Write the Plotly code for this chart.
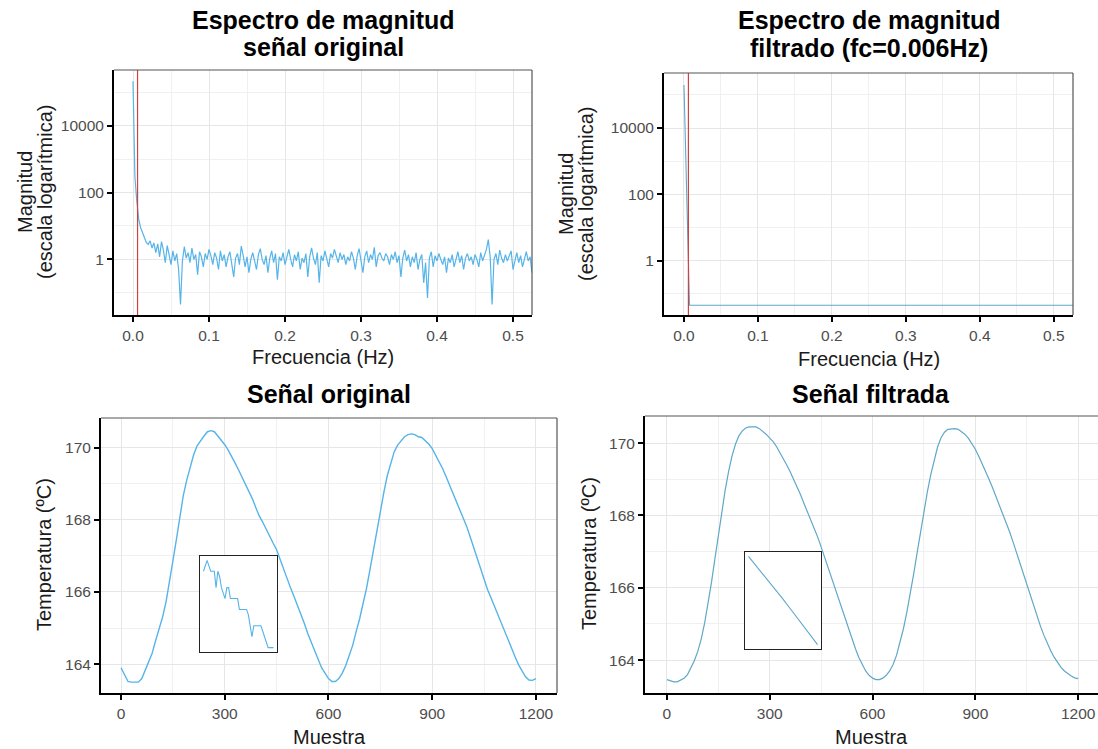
import numpy as np
import plotly.graph_objects as go

W, H = 1098, 749

# ---------------- data ----------------
FREQ_STEP = 0.0025          # Hz between spectrum points
FC = 0.006                  # cut-off frequency (Hz)

spec_orig = [
    210000, 300, 55, 16, 9, 6, 4.5, 3.2, 2.8, 3.6,
    2.2, 3.1, 1.6, 2.9, 1.2, 3.4, 1.9, 0.8, 2.6, 1.4,
    0.7, 1.8, 0.9, 1.5, 0.5, 0.045, 0.9, 2.4, 1.1, 1.6,
    0.8, 2.2, 1.0, 1.4, 0.35, 1.7, 1.2, 0.6, 1.5, 1.0,
    2.0, 1.3, 0.7, 1.6, 1.1, 0.5, 1.8, 0.9, 1.4, 0.6,
    1.2, 1.7, 0.8, 0.3, 1.1, 1.5, 0.7, 2.5, 1.3, 0.6,
    1.2, 0.4, 1.0, 1.6, 0.9, 0.5, 1.4, 2.1, 1.0, 0.7,
    1.3, 0.4, 1.1, 1.8, 0.8, 1.5, 0.25, 1.2, 0.9, 1.6,
    0.7, 1.3, 2.0, 1.0, 0.6, 1.4, 0.9, 1.7, 0.5, 1.1,
    0.8, 1.5, 0.3, 1.2, 2.2, 1.1, 0.7, 1.6, 0.2, 1.3,
    0.9, 1.8, 1.0, 0.6, 1.5, 1.1, 2.0, 1.2, 0.8, 1.6,
    1.0, 1.4, 0.7, 1.2, 0.9, 1.7, 1.1, 0.5, 1.3, 2.1,
    0.9, 0.4, 1.2, 1.8, 0.8, 1.4, 1.0, 2.3, 0.6, 1.3,
    1.6, 1.1, 0.9, 1.5, 1.2, 0.7, 1.4, 1.0, 1.7, 0.8,
    1.3, 0.3, 1.1, 1.9, 0.9, 1.4, 0.6, 1.2, 0.8, 1.6,
    0.5, 1.0, 1.4, 0.2, 0.8, 0.07, 1.1, 1.7, 0.6, 1.3,
    0.9, 1.5, 1.0, 0.7, 1.2, 0.4, 1.1, 0.8, 1.4, 0.6,
    1.0, 1.7, 0.8, 1.3, 0.5, 1.1, 1.5, 0.9, 1.2, 0.7,
    1.4, 1.0, 0.6, 1.6, 0.9, 1.3, 2.0, 3.9, 1.2, 0.045,
    1.0, 1.5, 0.7, 1.9, 1.1, 0.8, 1.4, 0.9, 1.2, 1.8,
    0.5, 1.0, 1.6, 0.8, 1.3, 0.6, 1.1, 1.7, 0.9, 1.2,
    0.4, 1.0, 1.5,
]

spec_filt = [200000, 800, 5] + [0.045] * 210

SAMPLE_STEP = 10
signal_orig = [
    163.90, 163.70, 163.52, 163.50, 163.50, 163.50, 163.60, 163.83, 164.08, 164.30,
    164.65, 164.95, 165.30, 165.72, 166.25, 166.86, 167.45, 168.08, 168.67, 169.10,
    169.45, 169.80, 170.05, 170.20, 170.32, 170.44, 170.47, 170.44, 170.33, 170.20,
    170.08, 169.93, 169.77, 169.57, 169.38, 169.18, 168.98, 168.80, 168.58, 168.33,
    168.10, 167.93, 167.73, 167.52, 167.35, 167.17, 166.90, 166.60, 166.37, 166.12,
    165.88, 165.64, 165.38, 165.13, 164.85, 164.60, 164.35, 164.10, 163.90, 163.75,
    163.60, 163.52, 163.52, 163.60, 163.75, 163.96, 164.22, 164.52, 164.90, 165.25,
    165.68, 166.10, 166.62, 167.16, 167.72, 168.25, 168.75, 169.22, 169.58, 169.88,
    170.07, 170.20, 170.30, 170.36, 170.38, 170.36, 170.30, 170.28, 170.20, 170.10,
    169.97, 169.80, 169.62, 169.42, 169.20, 168.98, 168.76, 168.50, 168.27, 168.04,
    167.81, 167.52, 167.23, 166.95, 166.65, 166.35, 166.07, 165.84, 165.60, 165.37,
    165.13, 164.90, 164.66, 164.42, 164.20, 163.98, 163.80, 163.65, 163.56, 163.55,
    163.60,
]

signal_filt = [
    163.46, 163.42, 163.40, 163.40, 163.44, 163.50, 163.60, 163.77, 163.98, 164.24,
    164.58, 165.02, 165.55, 166.15, 166.80, 167.47, 168.12, 168.70, 169.22, 169.65,
    169.97, 170.20, 170.34, 170.42, 170.45, 170.46, 170.45, 170.40, 170.33, 170.24,
    170.14, 170.04, 169.90, 169.74, 169.57, 169.39, 169.20, 169.00, 168.79, 168.57,
    168.33, 168.10, 167.88, 167.64, 167.40, 167.13, 166.85, 166.56, 166.27, 165.97,
    165.68, 165.39, 165.11, 164.85, 164.58, 164.32, 164.07, 163.86, 163.70, 163.58,
    163.50, 163.46, 163.46, 163.50, 163.58, 163.70, 163.88, 164.13, 164.46, 164.86,
    165.32, 165.82, 166.38, 166.96, 167.55, 168.12, 168.65, 169.13, 169.56, 169.90,
    170.15, 170.30, 170.38, 170.40, 170.40, 170.38, 170.32, 170.24, 170.13, 169.99,
    169.83, 169.64, 169.44, 169.22, 169.00, 168.77, 168.53, 168.29, 168.05, 167.82,
    167.55, 167.27, 166.98, 166.68, 166.38, 166.07, 165.77, 165.48, 165.20, 164.94,
    164.69, 164.46, 164.26, 164.08, 163.92, 163.80, 163.70, 163.62, 163.56, 163.51,
    163.49,
]

# zoomed detail (samples 400..439)
INSET_START = 400
inset_orig = [
    168.3750, 168.4375, 168.5000, 168.4375, 168.3750, 168.3750, 168.3750, 168.1875, 168.3750, 168.3125,
    168.1875, 168.1250, 168.0625, 168.1875, 168.1875, 168.0625, 168.0625, 168.0625, 168.0625, 168.0625,
    167.9375, 167.9375, 167.9375, 167.9375, 167.9375, 167.8750, 167.7500, 167.6250, 167.7500, 167.7500,
    167.7500, 167.7500, 167.7500, 167.6875, 167.6250, 167.5625, 167.5000, 167.5000, 167.5000, 167.5000,
]
inset_filt_samples = [400, 405, 410, 415, 420, 425, 430, 435, 440]
inset_filt = [168.33, 168.22, 168.10, 167.99, 167.88, 167.76, 167.64, 167.52, 167.40]

freq_ticks = [0.0, 0.1, 0.2, 0.3, 0.4, 0.5]
freq_minor = [0.05, 0.15, 0.25, 0.35, 0.45]
mag_ticks = [1, 100, 10000]
mag_minor = [0.1, 10, 1000, 100000]
sample_ticks = [0, 300, 600, 900, 1200]
sample_minor = [150, 450, 750, 1050]
temp_ticks = [164, 166, 168, 170]
temp_minor = [165, 167, 169]

# ---------------- derived x grids ----------------
freq_o = np.arange(len(spec_orig)) * FREQ_STEP
freq_f = np.arange(len(spec_filt)) * FREQ_STEP
samples = np.arange(len(signal_orig)) * SAMPLE_STEP
inset_samples = INSET_START + np.arange(len(inset_orig))

# ---------------- styling / layout ----------------
FONT = "Liberation Sans"
BLUE = "#56B4E9"
BLUE_F = "#5FA8C8"
RED = "#D2423F"
GRID = "#E6E6E6"
GRID_MINOR = "#F0F0F0"
TICKCOL = "#4D4D4D"


def px(x):
    return x / W


def py(y):
    return 1 - y / H


panels = {
    "TL": (114, 532, 70, 315),
    "TR": (664, 1073, 73, 315),
    "BL": (101, 557, 418, 693),
    "BR": (645, 1098, 416, 693),
}
ranges = {
    "BL": ([-58, 1261], [163.2, 170.82]),
    "BR": ([-64, 1258], [163.09, 170.75]),
}
inset_boxes = {
    "BL": (200, 277, 556, 652),
    "BR": (745, 821, 552, 649),
}

fig = go.Figure()


def box_in_data(main):
    """White backing behind an inset, expressed through the main panel's axes."""
    X0, X1, Y0, Y1 = panels[main]
    bx0, bx1, by0, by1 = inset_boxes[main]
    xr, yr = ranges[main]
    fx = lambda p: xr[0] + (p - X0) / (X1 - X0) * (xr[1] - xr[0])
    fy = lambda p: yr[0] + (Y1 - p) / (Y1 - Y0) * (yr[1] - yr[0])
    xs = [fx(bx0), fx(bx1), fx(bx1), fx(bx0), fx(bx0)]
    ys = [fy(by1), fy(by1), fy(by0), fy(by0), fy(by1)]
    return xs, ys


fig.add_trace(go.Scatter(x=freq_o, y=spec_orig, mode="lines", line=dict(color=BLUE, width=1.2),
                         xaxis="x", yaxis="y", showlegend=False, hoverinfo="skip"))
fig.add_trace(go.Scatter(x=freq_f, y=spec_filt, mode="lines", line=dict(color=BLUE_F, width=1.1),
                         xaxis="x2", yaxis="y2", showlegend=False, hoverinfo="skip"))
for main, xa, ya in (("BL", "x3", "y3"), ("BR", "x4", "y4")):
    bx, by = box_in_data(main)
    fig.add_trace(go.Scatter(x=bx, y=by, mode="lines", fill="toself", fillcolor="white",
                             line=dict(width=0, color="white"), xaxis=xa, yaxis=ya,
                             showlegend=False, hoverinfo="skip"))
fig.add_trace(go.Scatter(x=samples, y=signal_orig, mode="lines", line=dict(color=BLUE, width=1.4),
                         xaxis="x3", yaxis="y3", showlegend=False, hoverinfo="skip"))
fig.add_trace(go.Scatter(x=samples, y=signal_filt, mode="lines", line=dict(color=BLUE_F, width=1.2),
                         xaxis="x4", yaxis="y4", showlegend=False, hoverinfo="skip"))
fig.add_trace(go.Scatter(x=inset_samples, y=inset_orig, mode="lines", line=dict(color=BLUE, width=1.1),
                         xaxis="x5", yaxis="y5", showlegend=False, hoverinfo="skip"))
fig.add_trace(go.Scatter(x=inset_filt_samples, y=inset_filt, mode="lines", line=dict(color=BLUE_F, width=1.1),
                         xaxis="x6", yaxis="y6", showlegend=False, hoverinfo="skip"))


def base_axis(domain, rng, tickvals, ticktext, minor_vals, axtype="linear", anchor=None):
    d = dict(
        domain=domain, range=rng, type=axtype,
        tickmode="array", tickvals=tickvals, ticktext=ticktext,
        showline=True, linecolor="black", linewidth=2,
        ticks="outside", ticklen=5, tickwidth=1.6, tickcolor="black",
        tickfont=dict(family=FONT, size=15.5, color=TICKCOL),
        showgrid=True, gridcolor=GRID, gridwidth=1,
        zeroline=False, fixedrange=True,
        minor=dict(tickmode="array", tickvals=minor_vals, showgrid=True,
                   gridcolor=GRID_MINOR, gridwidth=1, ticks=""),
    )
    if anchor:
        d["anchor"] = anchor
    return d


def dom(p):
    x0, x1, y0, y1 = panels[p]
    return [px(x0), min(px(x1), 1.0)], [py(y1), py(y0)]


ftext = [f"{v:.1f}" for v in freq_ticks]
xd, yd = dom("TL")
fig.update_layout(
    xaxis=base_axis(xd, [-0.025, 0.525], freq_ticks, ftext, freq_minor, anchor="y"),
    yaxis=base_axis(yd, [-1.66, 5.66], mag_ticks, [str(v) for v in mag_ticks], mag_minor, "log", anchor="x"),
)
xd, yd = dom("TR")
fig.update_layout(
    xaxis2=base_axis(xd, [-0.027, 0.526], freq_ticks, ftext, freq_minor, anchor="y2"),
    yaxis2=base_axis(yd, [-1.64, 5.66], mag_ticks, [str(v) for v in mag_ticks], mag_minor, "log", anchor="x2"),
)
xd, yd = dom("BL")
fig.update_layout(
    xaxis3=base_axis(xd, ranges["BL"][0], sample_ticks, [str(v) for v in sample_ticks], sample_minor, anchor="y3"),
    yaxis3=base_axis(yd, ranges["BL"][1], temp_ticks, [str(v) for v in temp_ticks], temp_minor, anchor="x3"),
)
xd, yd = dom("BR")
fig.update_layout(
    xaxis4=base_axis(xd, ranges["BR"][0], sample_ticks, [str(v) for v in sample_ticks], sample_minor, anchor="y4"),
    yaxis4=base_axis(yd, ranges["BR"][1], temp_ticks, [str(v) for v in temp_ticks], temp_minor, anchor="x4"),
)


def inset_axes(main, xs, ys, xa, ya):
    bx0, bx1, by0, by1 = inset_boxes[main]
    xr = [min(xs), max(xs)]
    yr = [min(ys), max(ys)]
    xp = 0.05 * (xr[1] - xr[0])
    ypd = 0.05 * (yr[1] - yr[0])
    common = dict(showline=True, mirror=True, linecolor="#222222", linewidth=1.4,
                  showticklabels=False, ticks="", showgrid=False, zeroline=False, fixedrange=True)
    ax = dict(domain=[px(bx0), px(bx1)], range=[xr[0] - xp, xr[1] + xp], anchor=ya, **common)
    ay = dict(domain=[py(by1), py(by0)], range=[yr[0] - ypd, yr[1] + ypd], anchor=xa, **common)
    return ax, ay


ix5, iy5 = inset_axes("BL", list(inset_samples), inset_orig, "x5", "y5")
ix6, iy6 = inset_axes("BR", inset_filt_samples, inset_filt, "x6", "y6")
fig.update_layout(xaxis5=ix5, yaxis5=iy5, xaxis6=ix6, yaxis6=iy6)

shapes = []
# cut-off lines
for xr_, yr_ in (("x", "y domain"), ("x2", "y2 domain")):
    shapes.append(dict(type="line", xref=xr_, yref=yr_, x0=FC, x1=FC, y0=0, y1=1,
                       line=dict(color=RED, width=1.2), layer="above"))
# top / right panel borders
for p in panels:
    x0, x1, y0, y1 = panels[p]
    shapes.append(dict(type="line", xref="paper", yref="paper", x0=px(x0), x1=min(px(x1), 1.0),
                       y0=py(y0), y1=py(y0), line=dict(color="#555555", width=1.2)))
    if x1 < W:
        shapes.append(dict(type="line", xref="paper", yref="paper", x0=px(x1), x1=px(x1),
                           y0=py(y1), y1=py(y0), line=dict(color="#555555", width=1.2)))

annotations = []


def ann(text, x, y, size, bold=False, angle=0, color="#000000"):
    annotations.append(dict(text=f"<b>{text}</b>" if bold else text, x=px(x), y=py(y),
                            xref="paper", yref="paper", showarrow=False, textangle=angle,
                            xanchor="center", yanchor="middle",
                            font=dict(family=FONT, size=size, color=color)))


# titles
ann("Espectro de magnitud", 323, 20, 25, True)
ann("señal original", 323, 47, 25, True)
ann("Espectro de magnitud", 869, 20, 25, True)
ann("filtrado (fc=0.006Hz)", 869, 48, 25, True)
ann("Señal original", 329, 394, 25, True)
ann("Señal filtrada", 871, 394, 25, True)
# axis titles
AC = "#1A1A1A"
ann("Magnitud", 25, 192, 20, angle=-90, color=AC)
ann("(escala logarítmica)", 45, 192, 20, angle=-90, color=AC)
ann("Magnitud", 566, 194, 20, angle=-90, color=AC)
ann("(escala logarítmica)", 586, 194, 20, angle=-90, color=AC)
ann("Frecuencia (Hz)", 323, 357, 20, color=AC)
ann("Frecuencia (Hz)", 869, 359, 20, color=AC)
ann("Temperatura (ºC)", 44, 555, 20, angle=-90, color=AC)
ann("Temperatura (ºC)", 589, 554, 20, angle=-90, color=AC)
ann("Muestra", 329, 737, 20, color=AC)
ann("Muestra", 871, 737, 20, color=AC)

fig.update_layout(
    width=W, height=H, margin=dict(l=0, r=0, t=0, b=0),
    paper_bgcolor="white", plot_bgcolor="white",
    shapes=shapes, annotations=annotations, showlegend=False,
    font=dict(family=FONT),
)

fig.write_html("out.html", config={"displayModeBar": False})
